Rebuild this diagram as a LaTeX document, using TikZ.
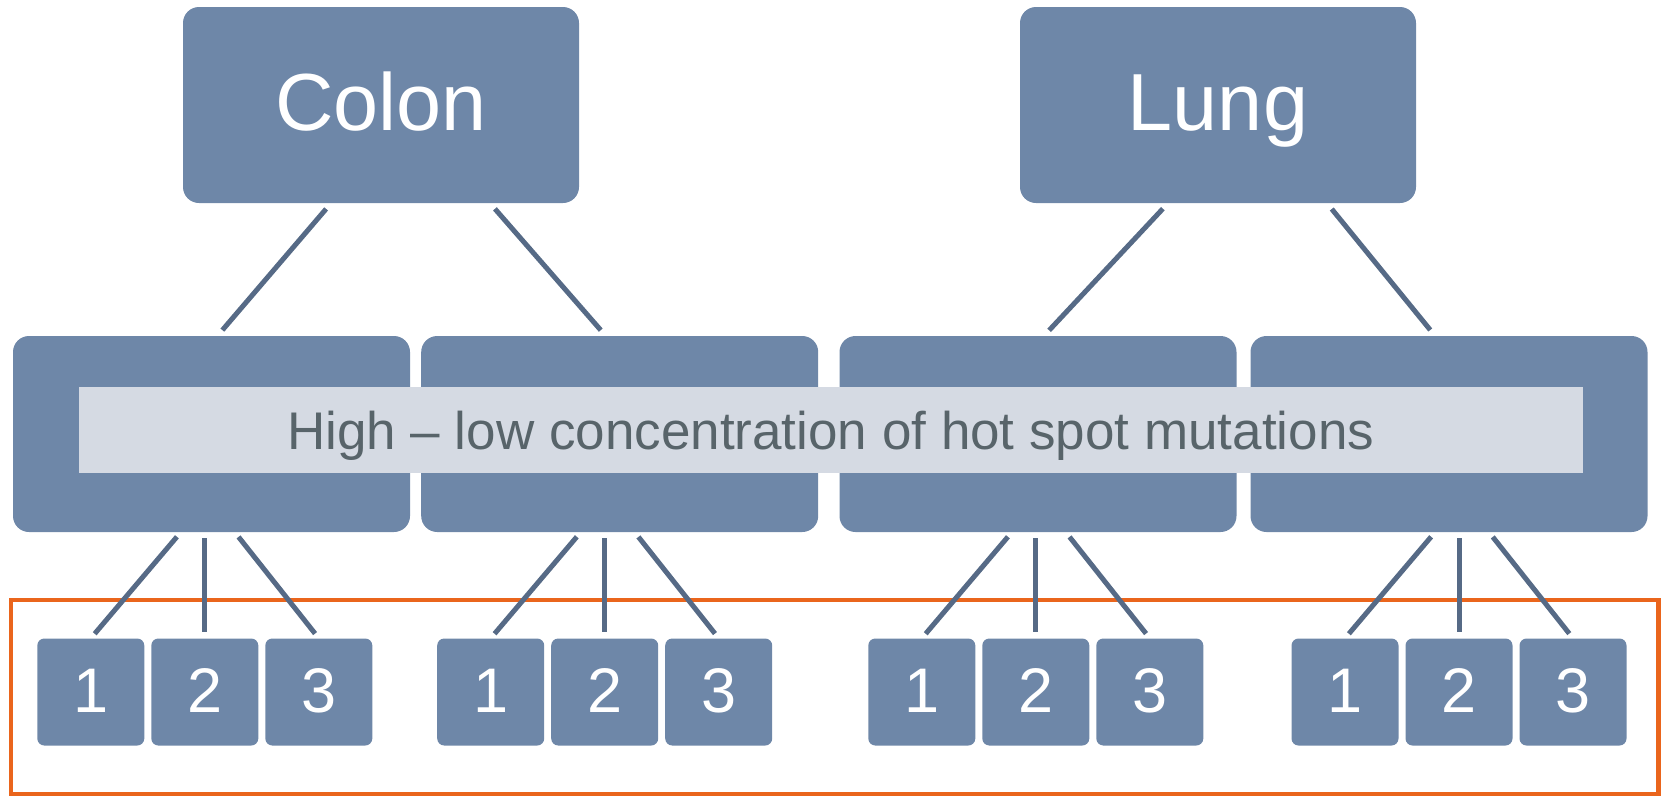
\documentclass[tikz,border=0pt]{standalone}
\usepackage{fontspec}
\setmainfont{Liberation Sans}
\definecolor{boxblue}{RGB}{110,135,168}
\definecolor{linkblue}{RGB}{86,106,134}
\definecolor{bandgray}{RGB}{213,218,227}
\definecolor{bandtext}{RGB}{88,100,106}
\definecolor{frameorange}{RGB}{234,101,28}

\begin{document}
\begin{tikzpicture}[x=1pt, y=-1pt,
    organ/.style ={rectangle, rounded corners=16pt, fill=boxblue, text=white, inner sep=0pt,
                   minimum width=396pt, minimum height=196pt, text height=58pt, text depth=8pt,
                   font=\fontsize{81}{97}\selectfont},
    sample/.style ={rectangle, rounded corners=16pt, fill=boxblue, inner sep=0pt,
                    minimum width=397pt, minimum height=196pt},
    band/.style ={rectangle, fill=bandgray, text=bandtext, inner sep=0pt, minimum width=1504pt,
                  minimum height=86pt, text height=38pt, text depth=0pt, font=\fontsize{53}{64}\selectfont},
    spot/.style ={rectangle, rounded corners=7pt, fill=boxblue, text=white, inner sep=0pt,
                  minimum size=107pt, text height=45pt, text depth=4pt, font=\fontsize{63}{76}\selectfont},
    link/.style ={draw=linkblue, line width=5pt},
    groupframe/.style ={draw=frameorange, line width=4.5pt}]
   \useasboundingbox (0,0) rectangle (1664,796);

   \node[organ] (colon) at (381,105)  {Colon};
   \node[organ] (lung)  at (1218,105) {Lung};

   \node[sample] (m1) at (211.5,434) {};
   \node[sample] (m2) at (619.7,434) {};
   \node[sample] (m3) at (1038,434)  {};
   \node[sample] (m4) at (1449,434)  {};
   \node[band] (scale) at (830.7,430) {High – low concentration of hot spot mutations};

   \draw[link, shorten <=7.5pt, shorten >=7.5pt] ([xshift=-50pt]colon.south) to ([xshift=6pt]m1.north);
   \draw[link, shorten <=7.5pt, shorten >=7.5pt] ([xshift=109pt]colon.south) to ([xshift=-14pt]m2.north);
   \draw[link, shorten <=7.5pt, shorten >=7.5pt] ([xshift=-50pt]lung.south) to ([xshift=6pt]m3.north);
   \draw[link, shorten <=7.5pt, shorten >=7.5pt] ([xshift=109pt]lung.south) to ([xshift=-14pt]m4.north);

   \draw[groupframe] (10.8,600) rectangle (1658.3,794);

   % three samples under every group
   \foreach \g/\c in {1/204.8, 2/604.7, 3/1035.8, 4/1459} {
     \foreach \i in {1,2,3}
       \node[spot] (s\g\i) at ({\c+(\i-2)*114},692) {\i};
     \coordinate (h\g) at (s\g2.north |- m\g.south);
     \draw[link, shorten <=6pt, shorten >=6pt] ([xshift=-24pt]h\g) to (s\g1.north);
     \draw[link, shorten <=6pt, shorten >=6pt] (h\g) to (s\g2.north);
     \draw[link, shorten <=6pt, shorten >=6pt] ([xshift=30pt]h\g) to (s\g3.north);
   }
\end{tikzpicture}
\end{document}
